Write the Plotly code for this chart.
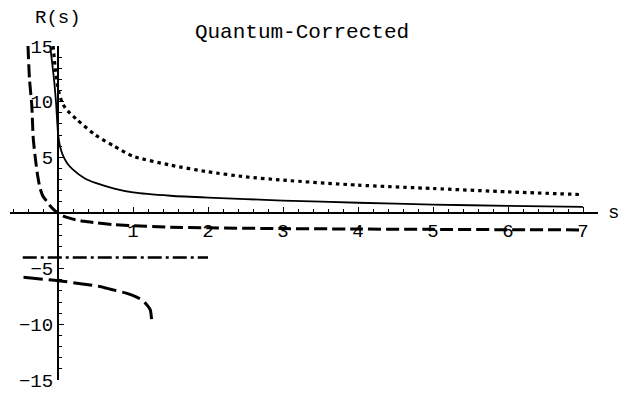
import numpy as np
import plotly.graph_objects as go

# --- curve samples R(s) ---
solid_s = [-0.105, -0.075, -0.05, -0.025, 0.0, 0.03, 0.07, 0.12, 0.2, 0.36, 0.5, 0.75,
           1.0, 1.5, 2.0, 2.5, 3.0, 4.0, 5.0, 6.0, 7.0]
solid_r = [15.0, 13.3, 11.8, 9.8, 7.2, 5.9, 5.1, 4.5, 3.9, 3.1, 2.7, 2.2,
           1.85, 1.55, 1.38, 1.25, 1.12, 0.92, 0.76, 0.64, 0.55]

dotted_s = [-0.065, -0.04, 0.0, 0.05, 0.1, 0.25, 0.5, 0.75, 1.0, 1.5, 2.0, 2.5,
            3.0, 4.0, 5.0, 6.0, 7.0]
dotted_r = [15.0, 13.2, 11.2, 10.0, 9.4, 8.4, 7.0, 6.0, 5.1, 4.3, 3.7, 3.25,
            2.95, 2.5, 2.2, 1.9, 1.65]

dashed_s = [-0.40, -0.38, -0.35, -0.33, -0.30, -0.27, -0.24, -0.2, -0.15, -0.1, -0.05,
            0.0, 0.05, 0.12, 0.2, 0.35, 0.5, 0.75, 1.0, 1.5, 2.0, 3.0, 4.0, 5.0, 6.0, 7.0]
dashed_r = [15.0, 12.0, 9.7, 6.7, 4.8, 3.3, 2.25, 1.5, 1.05, 0.6, 0.25,
            0.0, -0.2, -0.4, -0.55, -0.75, -0.88, -1.05, -1.15, -1.27, -1.33, -1.4, -1.44, -1.47, -1.5, -1.52]

dashdot_s = [-0.47, 2.0]
dashdot_r = [-4.0, -4.0]

longdash_s = [-0.46, 0.0, 0.25, 0.56, 0.7, 0.91, 1.05, 1.14, 1.19, 1.23, 1.25]
longdash_r = [-5.78, -6.08, -6.3, -6.6, -6.85, -7.2, -7.55, -7.9, -8.3, -8.7, -9.7]

x_ticks = [1, 2, 3, 4, 5, 6, 7]
y_ticks = [-15, -10, -5, 5, 10, 15]

X_RANGE = [-0.64, 7.2]
Y_RANGE = [-15, 15]
Y_AXIS_POS = (0 - X_RANGE[0]) / (X_RANGE[1] - X_RANGE[0])

FONT = "Liberation Mono, Courier New, monospace"
MARGIN = dict(l=10, r=23, t=46, b=13)
PLOT_H = 393 - MARGIN["t"] - MARGIN["b"]
PLOT_W = 621 - MARGIN["l"] - MARGIN["r"]

fig = go.Figure()

def add_curve(xs, ys, dash, width):
    fig.add_trace(go.Scatter(x=xs, y=ys, mode="lines",
                             line=dict(color="black", width=width, dash=dash, shape="spline", smoothing=0.6),
                             showlegend=False, hoverinfo="skip"))

add_curve(solid_s, solid_r, "solid", 1.8)
add_curve(dotted_s, dotted_r, "3.5px,4px", 3.2)
add_curve(dashed_s, dashed_r, "13px,5px", 3)
add_curve(dashdot_s, dashdot_r, "14px,4px,3px,4px", 2.6)
add_curve(longdash_s, longdash_r, "19px,6px", 3)

x_minor = [v for v in np.round(np.arange(-0.6, 7.2, 0.2), 2) if abs(v - round(v)) > 1e-6]
y_minor = [v for v in range(-15, 16) if v % 5 != 0]

fig.update_layout(
    width=621, height=393,
    margin=MARGIN,
    plot_bgcolor="white", paper_bgcolor="white",
    font=dict(family=FONT, size=19, color="black"),
    title=dict(text="Quantum-Corrected", x=302 / 621, xref="container", xanchor="center",
               y=1 - 31 / 393, yref="container", yanchor="middle",
               font=dict(family=FONT, size=21, color="black")),
    xaxis=dict(range=X_RANGE, showgrid=False, zeroline=False, automargin=False,
               showline=True, linecolor="black", linewidth=2,
               anchor="free", position=0.5, ticklabeloverflow="allow",
               tickmode="array", tickvals=x_ticks, ticks="inside", ticklen=5, tickwidth=1.2,
               tickcolor="black",
               tickfont=dict(family=FONT, size=19),
               minor=dict(tickmode="array", tickvals=x_minor, ticks="inside", ticklen=3,
                          tickwidth=1, tickcolor="black")),
    yaxis=dict(range=Y_RANGE, showgrid=False, zeroline=False, automargin=False,
               showline=True, linecolor="black", linewidth=2,
               anchor="free", position=Y_AXIS_POS, ticklabeloverflow="allow",
               tickmode="array", tickvals=y_ticks, ticks="inside", ticklen=5, tickwidth=1.2,
               tickcolor="black",
               tickfont=dict(family=FONT, size=19),
               minor=dict(tickmode="array", tickvals=y_minor, ticks="inside", ticklen=3,
                          tickwidth=1, tickcolor="black")),
    annotations=[
        dict(text="R(s)", x=Y_AXIS_POS, xref="paper", y=1 + (MARGIN["t"] - 18) / PLOT_H, yref="paper",
             xanchor="center", yanchor="middle", showarrow=False,
             font=dict(family=FONT, size=19, color="black")),
        dict(text="s", x=(613 - MARGIN["l"]) / PLOT_W, xref="paper", y=0.5, yref="paper",
             xanchor="center", yanchor="middle", showarrow=False,
             font=dict(family=FONT, size=19, color="black")),
    ],
)

fig.write_html("out.html")
